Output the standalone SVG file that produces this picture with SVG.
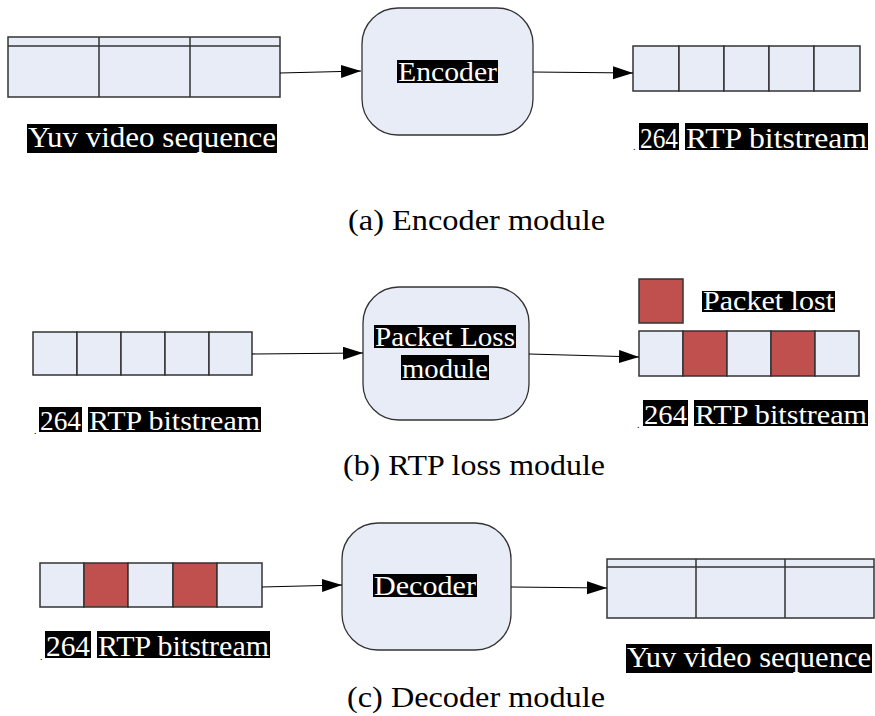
<svg xmlns="http://www.w3.org/2000/svg" width="875" height="716" viewBox="0 0 875 716">
  <defs>
    <marker id="arrow" markerUnits="userSpaceOnUse" markerWidth="22" markerHeight="14" refX="20" refY="6.5" orient="auto">
      <path d="M0,0 L20,6.5 L0,13 z" fill="#000"/>
    </marker>
  </defs>
  <style>
    .cell { fill: #E8ECF7; stroke: #333; stroke-width: 1.5; }
    .lost { fill: #C0504D; stroke: #333; stroke-width: 1.5; }
    .frame { fill: #E8ECF7; stroke: #333; stroke-width: 1.5; }
    .proc { fill: #E8ECF7; stroke: #333; stroke-width: 1.3; }
    .hl { fill: #000; }
    .lbl { fill: #fff; }
    .cap { fill: #000; font-size: 30px; }
    .dot { fill: #000; font-size: 10px; }
    .conn { stroke: #000; stroke-width: 1.2; fill: none; marker-end: url(#arrow); }
  </style>

  <rect width="875" height="716" fill="#fff"/>

  <g font-family="Liberation Serif, Times New Roman, Times, Noto Serif, DejaVu Serif, serif">
  <!-- (a) encoder module -->
  <g id="yuv-in">
    <rect class="frame" x="8" y="37" width="272" height="60"/>
    <line x1="8" y1="46" x2="280" y2="46" stroke="#333" stroke-width="1.5"/>
    <line x1="99" y1="37" x2="99" y2="97" stroke="#333" stroke-width="1.5"/>
    <line x1="190" y1="37" x2="190" y2="97" stroke="#333" stroke-width="1.5"/>
    <rect class="hl" x="27" y="124" width="250" height="29"/>
    <text class="lbl" x="28" y="147" font-size="29" textLength="248" lengthAdjust="spacingAndGlyphs">Yuv video sequence</text>
  </g>

  <g id="encoder">
    <rect class="proc" x="362" y="8" width="171" height="127" rx="36" ry="36"/>
    <rect class="hl" x="397" y="60" width="101" height="23"/>
    <text class="lbl" x="398" y="81" font-size="28" textLength="99" lengthAdjust="spacingAndGlyphs">Encoder</text>
  </g>

  <g id="rtp-out-a">
    <rect class="cell" x="633" y="46" width="46" height="45"/>
    <rect class="cell" x="679" y="46" width="45" height="45"/>
    <rect class="cell" x="724" y="46" width="45" height="45"/>
    <rect class="cell" x="769" y="46" width="45" height="45"/>
    <rect class="cell" x="814" y="46" width="46" height="45"/>
    <text class="dot" x="633" y="150">.</text>
    <rect class="hl" x="639" y="123" width="40" height="27"/>
    <text class="lbl" x="640" y="148" font-size="29" textLength="38" lengthAdjust="spacingAndGlyphs">264</text>
    <rect class="hl" x="685" y="123" width="183" height="27"/>
    <text class="lbl" x="686" y="148" font-size="29" textLength="181" lengthAdjust="spacingAndGlyphs">RTP bitstream</text>
  </g>

  <g id="caption-a">
    <text class="cap" x="348" y="230" textLength="257" lengthAdjust="spacingAndGlyphs">(a)  Encoder module</text>
  </g>

  <!-- (b) RTP loss module -->
  <g id="rtp-in-b">
    <rect class="cell" x="33" y="332" width="44" height="43"/>
    <rect class="cell" x="77" y="332" width="44" height="43"/>
    <rect class="cell" x="121" y="332" width="44" height="43"/>
    <rect class="cell" x="165" y="332" width="44" height="43"/>
    <rect class="cell" x="209" y="332" width="43" height="43"/>
    <text class="dot" x="34" y="434">.</text>
    <rect class="hl" x="39" y="407" width="43" height="25"/>
    <text class="lbl" x="40" y="430" font-size="28" textLength="41" lengthAdjust="spacingAndGlyphs">264</text>
    <rect class="hl" x="88" y="407" width="173" height="25"/>
    <text class="lbl" x="89" y="430" font-size="28" textLength="171" lengthAdjust="spacingAndGlyphs">RTP bitstream</text>
  </g>

  <g id="packet-loss">
    <rect class="proc" x="363" y="287" width="166" height="133" rx="36" ry="36"/>
    <rect class="hl" x="374" y="325" width="142" height="23"/>
    <text class="lbl" x="375" y="346" font-size="28" textLength="140" lengthAdjust="spacingAndGlyphs">Packet Loss</text>
    <rect class="hl" x="401" y="355" width="88" height="25"/>
    <text class="lbl" x="402" y="378" font-size="28" textLength="86" lengthAdjust="spacingAndGlyphs">module</text>
  </g>

  <g id="legend">
    <rect class="lost" x="639" y="279" width="44" height="44"/>
    <rect class="hl" x="702" y="291" width="133" height="21"/>
    <text class="lbl" x="703" y="310" font-size="27" textLength="131" lengthAdjust="spacingAndGlyphs">Packet lost</text>
  </g>

  <g id="rtp-out-b">
    <rect class="cell" x="639" y="331" width="44" height="45"/>
    <rect class="lost" x="683" y="331" width="44" height="45"/>
    <rect class="cell" x="727" y="331" width="44" height="45"/>
    <rect class="lost" x="771" y="331" width="44" height="45"/>
    <rect class="cell" x="815" y="331" width="44" height="45"/>
    <text class="dot" x="637" y="428">.</text>
    <rect class="hl" x="643" y="400" width="45" height="26"/>
    <text class="lbl" x="644" y="424" font-size="28" textLength="43" lengthAdjust="spacingAndGlyphs">264</text>
    <rect class="hl" x="694" y="400" width="174" height="26"/>
    <text class="lbl" x="695" y="424" font-size="28" textLength="172" lengthAdjust="spacingAndGlyphs">RTP bitstream</text>
  </g>

  <g id="caption-b">
    <text class="cap" x="343" y="475" textLength="262" lengthAdjust="spacingAndGlyphs">(b)  RTP loss module</text>
  </g>

  <!-- (c) decoder module -->
  <g id="rtp-in-c">
    <rect class="cell" x="40" y="563" width="44" height="44"/>
    <rect class="lost" x="84" y="563" width="44" height="44"/>
    <rect class="cell" x="128" y="563" width="45" height="44"/>
    <rect class="lost" x="173" y="563" width="44" height="44"/>
    <rect class="cell" x="217" y="563" width="45" height="44"/>
    <text class="dot" x="40" y="660">.</text>
    <rect class="hl" x="45" y="631" width="46" height="27"/>
    <text class="lbl" x="46" y="656" font-size="29" textLength="44" lengthAdjust="spacingAndGlyphs">264</text>
    <rect class="hl" x="97" y="631" width="173" height="27"/>
    <text class="lbl" x="98" y="656" font-size="29" textLength="171" lengthAdjust="spacingAndGlyphs">RTP bitstream</text>
  </g>

  <g id="decoder">
    <rect class="proc" x="342" y="523" width="169" height="127" rx="36" ry="36"/>
    <rect class="hl" x="373" y="574" width="104" height="23"/>
    <text class="lbl" x="374" y="595" font-size="28" textLength="102" lengthAdjust="spacingAndGlyphs">Decoder</text>
  </g>

  <g id="yuv-out">
    <rect class="frame" x="607" y="559" width="267" height="59"/>
    <line x1="607" y1="567" x2="874" y2="567" stroke="#333" stroke-width="1.5"/>
    <line x1="696" y1="559" x2="696" y2="618" stroke="#333" stroke-width="1.5"/>
    <line x1="785" y1="559" x2="785" y2="618" stroke="#333" stroke-width="1.5"/>
    <rect class="hl" x="626" y="644" width="246" height="29"/>
    <text class="lbl" x="627" y="667" font-size="29" textLength="244" lengthAdjust="spacingAndGlyphs">Yuv video sequence</text>
  </g>

  <g id="caption-c">
    <text class="cap" x="347" y="707" textLength="258" lengthAdjust="spacingAndGlyphs">(c)  Decoder module</text>
  </g>
  </g>

  <!-- connectors -->
  <g id="connectors">
    <line class="conn" x1="280" y1="73" x2="361" y2="71"/>
    <line class="conn" x1="533" y1="72" x2="633" y2="73"/>
    <line class="conn" x1="252" y1="354" x2="363" y2="353"/>
    <line class="conn" x1="529" y1="354" x2="639" y2="357"/>
    <line class="conn" x1="262" y1="587" x2="342" y2="585"/>
    <line class="conn" x1="511" y1="587" x2="607" y2="588"/>
  </g>
</svg>
